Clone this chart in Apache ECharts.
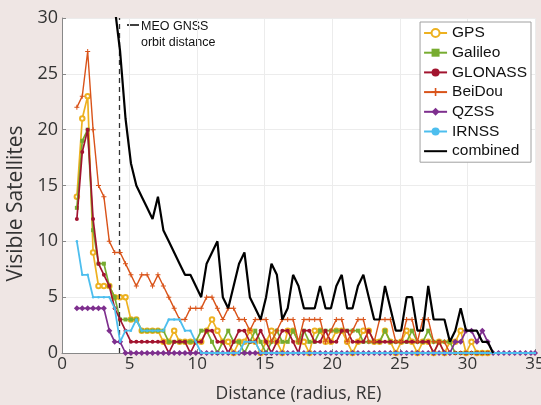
<!DOCTYPE html>
<html>
<head>
<meta charset="utf-8">
<script src="https://cdn.jsdelivr.net/npm/echarts@6/dist/echarts.min.js"></script>
<style>
  html, body { margin: 0; padding: 0; background: #efe6e4; }
  #chart { width: 541px; height: 405px; }
</style>
</head>
<body>
<div id="chart"></div>
<script>
// distance from Earth centre, in Earth radii
const distance = [
  1.1, 1.5, 1.9, 2.3, 2.7, 3.1, 3.5, 3.9, 4.3, 4.7,
  5.1, 5.5, 5.9, 6.3, 6.7, 7.1, 7.5, 7.9, 8.3, 8.7,
  9.1, 9.5, 9.9, 10.3, 10.7, 11.1, 11.5, 11.9, 12.3, 12.7,
  13.1, 13.5, 13.9, 14.3, 14.7, 15.1, 15.5, 15.9, 16.3, 16.7,
  17.1, 17.5, 17.9, 18.3, 18.7, 19.1, 19.5, 19.9, 20.3, 20.7,
  21.1, 21.5, 21.9, 22.3, 22.7, 23.1, 23.5, 23.9, 24.3, 24.7,
  25.1, 25.5, 25.9, 26.3, 26.7, 27.1, 27.5, 27.9, 28.3, 28.7,
  29.1, 29.5, 29.9, 30.3, 30.7, 31.1, 31.5, 31.9, 32.3, 32.7,
  33.1, 33.5, 33.9, 34.3, 34.7, 35
];

const gps = [
  14, 21, 23, 9, 6, 6, 6, 5, 5, 5,
  3, 3, 2, 2, 2, 2, 1, 1, 2, 1,
  1, 1, 1, 1, 2, 3, 2, 1, 1, 0,
  1, 1, 2, 1, 0, 1, 2, 1, 0, 2,
  2, 1, 1, 0, 2, 2, 1, 1, 2, 2,
  1, 0, 1, 2, 2, 1, 1, 2, 1, 0,
  1, 2, 1, 0, 1, 1, 0, 1, 0, 1,
  1, 2, 0, 1, 0, 0, 0, '-', '-', '-',
  '-', '-', '-', '-', '-', '-'
];

const galileo = [
  13, 19, 20, 11, 8, 8, 6, 5, 3, 3,
  3, 3, 2, 2, 2, 2, 2, 1, 1, 1,
  1, 1, 1, 2, 2, 1, 0, 1, 2, 1,
  1, 0, 1, 2, 1, 0, 1, 2, 1, 1,
  2, 1, 2, 1, 1, 2, 2, 2, 2, 2,
  2, 2, 2, 1, 1, 1, 1, 2, 1, 1,
  1, 1, 2, 1, 1, 2, 1, 1, 1, 1,
  0, 0, 0, 0, 0, 0, 0, '-', '-', '-',
  '-', '-', '-', '-', '-', '-'
];

const glonass = [
  12, 18, 20, 12, 8, 7, 6, 4, 3, 2,
  1, 1, 1, 1, 1, 1, 1, 0, 1, 1,
  1, 0, 1, 1, 2, 2, 1, 1, 0, 1,
  2, 2, 1, 1, 2, 1, 0, 1, 2, 2,
  1, 0, 2, 2, 1, 1, 2, 1, 1, 2,
  2, 1, 1, 1, 2, 1, 1, 1, 1, 1,
  1, 1, 1, 1, 1, 1, 0, 1, 0, 0,
  0, 0, 0, 0, 0, 0, 0, '-', '-', '-',
  '-', '-', '-', '-', '-', '-'
];

const beidou = [
  22, 23, 27, 20, 15, 14, 10, 9, 9, 8,
  7, 6, 7, 7, 6, 7, 6, 5, 4, 3,
  3, 4, 4, 4, 5, 5, 4, 3, 4, 4,
  3, 3, 2, 3, 3, 3, 1, 2, 3, 3,
  3, 1, 3, 3, 3, 3, 1, 2, 3, 3,
  1, 2, 3, 3, 1, 1, 3, 3, 3, 1,
  1, 3, 3, 1, 3, 3, 1, 1, 1, 0,
  0, 0, 0, 0, 0, 0, 0, '-', '-', '-',
  '-', '-', '-', '-', '-', '-'
];

const qzss = [
  4, 4, 4, 4, 4, 4, 2, 1, 1, 0,
  0, 0, 0, 0, 0, 0, 0, 0, 0, 0,
  0, 0, 0, 0, 0, 0, 0, 0, 0, 0,
  0, 0, 0, 0, 0, 0, 0, 0, 0, 0,
  0, 0, 0, 0, 0, 0, 0, 0, 0, 0,
  0, 0, 0, 0, 0, 0, 0, 0, 0, 0,
  0, 0, 0, 0, 0, 0, 0, 0, 0, 0,
  1, 1, 2, 2, 1, 2, 1, 0, 0, 0,
  0, 0, 0, 0, 0, 0
];

const irnss = [
  10, 7, 7, 5, 5, 5, 5, 4, 1, 2,
  2, 3, 2, 2, 2, 2, 2, 3, 3, 3,
  2, 2, 1, 0, 0, 0, 0, 0, 0, 0,
  0, 1, 1, 1, 0, 0, 0, 0, 0, 0,
  0, 0, 0, 0, 0, 0, 0, 0, 0, 0,
  0, 0, 0, 0, 0, 0, 0, 0, 0, 0,
  0, 0, 0, 0, 0, 0, 0, 0, 0, 0,
  0, 0, 0, 0, 0, 0, 0, 0, 0, 0,
  0, 0, 0, 0, 0, 0
];

// combined count, runs off the top near Earth; no data past ~31.9 RE
const combined = [
  75, 92, 101, 62, 46, 44, 37, 31, 27, 21,
  17, 15, 14, 13, 12, 14, 11, 10, 9, 8,
  7, 7, 6, 5, 8, 9, 10, 5, 4, 6,
  8, 9, 5, 4, 3, 5, 8, 7, 3, 4,
  7, 6, 4, 4, 4, 6, 4, 4, 6, 7,
  4, 4, 6, 7, 5, 3, 3, 6, 4, 2,
  2, 5, 5, 2, 2, 6, 3, 3, 3, 1,
  2, 4, 2, 2, 2, 1, 1, 0, '-', '-',
  '-', '-', '-', '-', '-', '-'
];

const meoOrbit = 4.2;

const plusSymbol = 'path://M0,4L10,4L10,6L0,6Z M4,0L6,0L6,10L4,10Z';

const pair = (ys) => ys.map((v, i) => [distance[i], v]);

function lineSeries(name, color, ys, symbol, size, width, z) {
  return {
    name: name,
    type: 'line',
    z: z,
    data: pair(ys),
    symbol: symbol,
    symbolSize: size,
    showSymbol: symbol !== 'none',
    itemStyle: { color: color },
    lineStyle: { color: color, width: width },
    emphasis: { disabled: true }
  };
}

const chart = echarts.init(document.getElementById('chart'));

const series = [
  lineSeries('GPS', '#EDB120', gps, 'emptyCircle', 4.5, 1.7, 2),
  lineSeries('Galileo', '#77AC30', galileo, 'rect', 4, 1.7, 3),
  lineSeries('GLONASS', '#A2142F', glonass, 'circle', 4, 1.7, 4),
  lineSeries('BeiDou', '#D95319', beidou, plusSymbol, 5, 1.4, 5),
  lineSeries('QZSS', '#7E2F8E', qzss, 'diamond', 6, 1.7, 6),
  lineSeries('IRNSS', '#4DBEEE', irnss, 'circle', 2.5, 1.8, 7),
  lineSeries('combined', '#000000', combined, 'none', 0, 2.2, 8)
];

series[6].markLine = {
  silent: true,
  symbol: 'none',
  label: { show: false },
  lineStyle: { color: '#333', type: [5, 4], width: 1.3 },
  data: [{ xAxis: meoOrbit }]
};

const font = 'Open Sans';

chart.setOption({
  animation: false,
  backgroundColor: '#efe6e4',
  grid: {
    left: 62, right: 6, top: 18, bottom: 52,
    outerBoundsMode: 'none',
    show: true, backgroundColor: '#ffffff', borderWidth: 0
  },
  legend: {
    orient: 'vertical',
    right: 10,
    top: 22,
    data: ['GPS', 'Galileo', 'GLONASS', 'BeiDou', 'QZSS', 'IRNSS',
      { name: 'combined', itemStyle: { opacity: 0 } }],
    backgroundColor: '#ffffff',
    borderColor: '#a0a0a0',
    borderWidth: 1,
    borderRadius: 0,
    padding: [3, 4, 3, 3],
    itemWidth: 23,
    itemHeight: 10,
    itemGap: 3.7,
    textStyle: { fontFamily: 'Liberation Sans', fontSize: 15.5, lineHeight: 16, color: '#111' }
  },
  xAxis: {
    type: 'value',
    min: 0, max: 35, interval: 5,
    name: 'Distance (radius, RE)',
    nameLocation: 'middle',
    nameGap: 32,
    nameTextStyle: { fontFamily: font, fontSize: 17.5, color: '#333' },
    axisLine: { lineStyle: { color: '#888' } },
    axisTick: { inside: true, length: 4, lineStyle: { color: '#888' } },
    axisLabel: { fontFamily: font, fontSize: 17, color: '#333', margin: 3 },
    splitLine: { show: true, lineStyle: { color: '#ececec' } }
  },
  yAxis: {
    type: 'value',
    min: 0, max: 30, interval: 5,
    name: 'Visible Satellites',
    nameLocation: 'middle',
    nameGap: 32,
    nameTextStyle: { fontFamily: font, fontSize: 21, color: '#333', padding: [0, 36, 0, 0] },
    axisLine: { show: true, lineStyle: { color: '#888' } },
    axisTick: { show: true, inside: true, length: 4, lineStyle: { color: '#888' } },
    axisLabel: { fontFamily: font, fontSize: 18, color: '#333', margin: 4 },
    splitLine: { show: true, lineStyle: { color: '#ececec' } }
  },
  graphic: [
    {
      type: 'line',
      shape: { x1: 127, y1: 25, x2: 139, y2: 25 },
      style: { stroke: '#000', lineWidth: 1.5 }
    },
    {
      type: 'text',
      left: 141, top: 20,
      style: { text: 'MEO GNSS', font: '12.5px "Liberation Sans"', fill: '#111' }
    },
    {
      type: 'text',
      left: 141, top: 36,
      style: { text: 'orbit distance', font: '12.5px "Liberation Sans"', fill: '#111' }
    }
  ],
  series: series
});
</script>
</body>
</html>
